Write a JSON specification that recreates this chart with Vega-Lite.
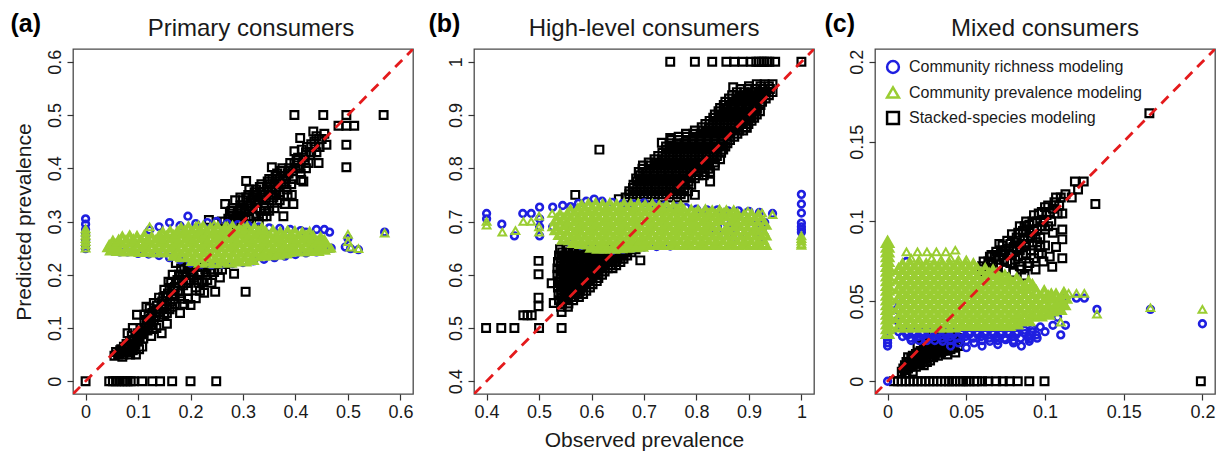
{
"$schema":"https://vega.github.io/schema/vega-lite/v6.json",
"autosize":{"type":"pad"},
"padding":{"left":9,"top":10,"right":8,"bottom":5},
"background":"white",
"config":{
 "font":"Liberation Sans",
 "view":{"stroke":"#4a4a4a","strokeWidth":1.3},
 "axis":{"domain":false,"grid":false,"tickColor":"#333333","tickSize":6,"tickWidth":1.2,"labelFontSize":18,"labelColor":"#1a1a1a","labelPadding":3,"labelOverlap":false,"labelFlush":false,"titleFontSize":21,"titleFontWeight":"normal","titleColor":"#1a1a1a"},
 "axisY":{"labelAngle":-90,"labelAlign":"center","labelBaseline":"bottom","titlePadding":12},
 "axisX":{"labelAngle":0,"titlePadding":8},
 "title":{"fontSize":24,"fontWeight":"normal","color":"#1a1a1a","baseline":"alphabetic","offset":-30},
 "legend":{"labelFontSize":16,"labelColor":"#1a1a1a","labelLimit":0,"symbolStrokeWidth":2.5,"symbolSize":140,"rowPadding":3.5,"padding":4,"offset":6,"labelOffset":8}
},
"datasets":{
"da":[{"x":-0.024,"y":-0.024},{"x":0.624,"y":0.624}],
"db":[{"x":0.376,"y":0.376},{"x":1.024,"y":1.024}],
"dc":[{"x":-0.008,"y":-0.008},{"x":0.208,"y":0.208}],
"as":[{"x":0,"y":0},{"x":0.045,"y":0},{"x":0.052,"y":0},{"x":0.058,"y":0},{"x":0.064,"y":0},{"x":0.07,"y":0},{"x":0.075,"y":0},{"x":0.08,"y":0},{"x":0.086,"y":0},{"x":0.092,"y":0},{"x":0.108,"y":0},{"x":0.127,"y":0},{"x":0.142,"y":0},{"x":0.165,"y":0},{"x":0.2,"y":0},{"x":0.249,"y":0},
{"x":0.055,"y":0.048},{"x":0.062,"y":0.05},{"x":0.07,"y":0.046},{"x":0.075,"y":0.055},{"x":0.08,"y":0.06},{"x":0.085,"y":0.05},{"x":0.09,"y":0.058},{"x":0.096,"y":0.05},{"x":0.068,"y":0.06},{"x":0.078,"y":0.07},{"x":0.085,"y":0.075},{"x":0.088,"y":0.085},{"x":0.095,"y":0.07},{"x":0.1,"y":0.09},{"x":0.098,"y":0.125},{"x":0.105,"y":0.1},{"x":0.11,"y":0.08},{"x":0.112,"y":0.11},{"x":0.118,"y":0.095},{"x":0.12,"y":0.125},{"x":0.122,"y":0.137},{"x":0.125,"y":0.105},{"x":0.13,"y":0.115},{"x":0.13,"y":0.147},{"x":0.135,"y":0.13},{"x":0.14,"y":0.12},{"x":0.14,"y":0.157},{"x":0.145,"y":0.09},{"x":0.145,"y":0.14},{"x":0.15,"y":0.172},{"x":0.15,"y":0.125},{"x":0.155,"y":0.15},{"x":0.158,"y":0.187},{"x":0.16,"y":0.135},{"x":0.165,"y":0.162},{"x":0.166,"y":0.2},{"x":0.17,"y":0.177},{"x":0.17,"y":0.145},{"x":0.175,"y":0.19},{"x":0.18,"y":0.128},{"x":0.18,"y":0.165},{"x":0.182,"y":0.212},{"x":0.186,"y":0.18},{"x":0.188,"y":0.145},{"x":0.19,"y":0.2},{"x":0.195,"y":0.17},{"x":0.198,"y":0.22},{"x":0.2,"y":0.19},{"x":0.2,"y":0.143},{"x":0.205,"y":0.21},{"x":0.21,"y":0.176},{"x":0.21,"y":0.156},{"x":0.215,"y":0.2},{"x":0.22,"y":0.215},{"x":0.222,"y":0.186},{"x":0.226,"y":0.166},{"x":0.23,"y":0.2},{"x":0.235,"y":0.218},{"x":0.24,"y":0.185},{"x":0.245,"y":0.205},{"x":0.247,"y":0.168},{"x":0.25,"y":0.22},{"x":0.256,"y":0.195},{"x":0.26,"y":0.21},{"x":0.266,"y":0.22},{"x":0.283,"y":0.202},{"x":0.305,"y":0.168},{"x":0.172,"y":0.222},{"x":0.186,"y":0.226},{"x":0.108,"y":0.065},{"x":0.125,"y":0.085},{"x":0.135,"y":0.1},{"x":0.155,"y":0.108},{"x":0.116,"y":0.14},{"x":0.09,"y":0.1},{"x":0.08,"y":0.09},{"x":0.102,"y":0.06},{"x":0.112,"y":0.125},{"x":0.065,"y":0.052},{"x":0.073,"y":0.065},{"x":0.083,"y":0.068},{"x":0.092,"y":0.078},{"x":0.1,"y":0.075},{"x":0.106,"y":0.088},{"x":0.116,"y":0.105},{"x":0.124,"y":0.118},{"x":0.136,"y":0.142},{"x":0.148,"y":0.158},{"x":0.16,"y":0.175},{"x":0.17,"y":0.16},{"x":0.185,"y":0.2},{"x":0.196,"y":0.185},{"x":0.206,"y":0.195},{"x":0.215,"y":0.185},{"x":0.228,"y":0.21},{"x":0.24,"y":0.205},
{"x":0.058,"y":0.055},{"x":0.066,"y":0.058},{"x":0.072,"y":0.05},{"x":0.077,"y":0.062},{"x":0.082,"y":0.055},{"x":0.087,"y":0.065},{"x":0.093,"y":0.065},{"x":0.097,"y":0.082},{"x":0.103,"y":0.08},{"x":0.107,"y":0.095},{"x":0.11,"y":0.09},{"x":0.114,"y":0.1},{"x":0.117,"y":0.115},{"x":0.121,"y":0.11},{"x":0.127,"y":0.128},{"x":0.128,"y":0.098},{"x":0.133,"y":0.122},{"x":0.138,"y":0.135},{"x":0.142,"y":0.13},{"x":0.146,"y":0.15},{"x":0.151,"y":0.145},{"x":0.152,"y":0.16},{"x":0.157,"y":0.165},{"x":0.162,"y":0.15},{"x":0.163,"y":0.185},{"x":0.168,"y":0.17},{"x":0.172,"y":0.185},{"x":0.176,"y":0.17},{"x":0.178,"y":0.2},{"x":0.183,"y":0.19},{"x":0.188,"y":0.21},{"x":0.192,"y":0.185},{"x":0.194,"y":0.215},{"x":0.2,"y":0.205},{"x":0.203,"y":0.2},{"x":0.208,"y":0.218},{"x":0.212,"y":0.19},{"x":0.218,"y":0.205},{"x":0.225,"y":0.22},{"x":0.232,"y":0.19},{"x":0.238,"y":0.21},{"x":0.243,"y":0.22},{"x":0.252,"y":0.21},{"x":0.258,"y":0.22},{"x":0.218,"y":0.17},{"x":0.195,"y":0.155},{"x":0.182,"y":0.155},{"x":0.165,"y":0.14},{"x":0.155,"y":0.128},
{"x":0.27,"y":0.29},{"x":0.275,"y":0.3},{"x":0.28,"y":0.31},{"x":0.285,"y":0.295},{"x":0.29,"y":0.32},{"x":0.29,"y":0.3},{"x":0.295,"y":0.33},{"x":0.3,"y":0.31},{"x":0.3,"y":0.34},{"x":0.305,"y":0.295},{"x":0.306,"y":0.376},{"x":0.31,"y":0.32},{"x":0.31,"y":0.35},{"x":0.315,"y":0.335},{"x":0.32,"y":0.31},{"x":0.32,"y":0.345},{"x":0.325,"y":0.36},{"x":0.325,"y":0.325},{"x":0.33,"y":0.34},{"x":0.33,"y":0.3},{"x":0.335,"y":0.355},{"x":0.335,"y":0.37},{"x":0.34,"y":0.33},{"x":0.34,"y":0.35},{"x":0.345,"y":0.365},{"x":0.345,"y":0.31},{"x":0.35,"y":0.34},{"x":0.35,"y":0.38},{"x":0.355,"y":0.402},{"x":0.355,"y":0.36},{"x":0.36,"y":0.35},{"x":0.36,"y":0.37},{"x":0.365,"y":0.39},{"x":0.365,"y":0.335},{"x":0.37,"y":0.38},{"x":0.37,"y":0.355},{"x":0.375,"y":0.4},{"x":0.377,"y":0.31},{"x":0.38,"y":0.333},{"x":0.38,"y":0.37},{"x":0.385,"y":0.39},{"x":0.39,"y":0.41},{"x":0.393,"y":0.35},{"x":0.396,"y":0.333},{"x":0.395,"y":0.38},{"x":0.398,"y":0.432},{"x":0.4,"y":0.4},{"x":0.405,"y":0.42},{"x":0.409,"y":0.457},{"x":0.41,"y":0.39},{"x":0.415,"y":0.375},{"x":0.42,"y":0.43},{"x":0.425,"y":0.41},{"x":0.43,"y":0.445},{"x":0.434,"y":0.469},{"x":0.44,"y":0.43},{"x":0.444,"y":0.41},{"x":0.45,"y":0.455},{"x":0.459,"y":0.444},{"x":0.398,"y":0.5},{"x":0.453,"y":0.5},{"x":0.497,"y":0.5},{"x":0.568,"y":0.5},{"x":0.482,"y":0.48},{"x":0.497,"y":0.48},{"x":0.512,"y":0.48},{"x":0.497,"y":0.444},{"x":0.497,"y":0.402},{"x":0.266,"y":0.333},{"x":0.235,"y":0.303},{"x":0.26,"y":0.3},{"x":0.25,"y":0.298},{"x":0.28,"y":0.325},{"x":0.285,"y":0.34},{"x":0.275,"y":0.315},{"x":0.272,"y":0.305},{"x":0.278,"y":0.32},{"x":0.288,"y":0.31},{"x":0.295,"y":0.345},{"x":0.298,"y":0.3},{"x":0.308,"y":0.33},{"x":0.312,"y":0.36},{"x":0.318,"y":0.325},{"x":0.322,"y":0.355},{"x":0.328,"y":0.335},{"x":0.332,"y":0.365},{"x":0.338,"y":0.345},{"x":0.342,"y":0.32},{"x":0.348,"y":0.355},{"x":0.352,"y":0.37},{"x":0.358,"y":0.345},{"x":0.362,"y":0.385},{"x":0.368,"y":0.365},{"x":0.372,"y":0.395},{"x":0.378,"y":0.35},{"x":0.382,"y":0.38},{"x":0.388,"y":0.4},{"x":0.392,"y":0.37},{"x":0.402,"y":0.415},{"x":0.408,"y":0.4},{"x":0.412,"y":0.435},{"x":0.418,"y":0.415},{"x":0.428,"y":0.425},{"x":0.436,"y":0.45},{"x":0.446,"y":0.44},{"x":0.455,"y":0.465},{"x":0.44,"y":0.46},{"x":0.411,"y":0.378},{"x":0.42,"y":0.4},
{"x":0.275,"y":0.293},{"x":0.283,"y":0.305},{"x":0.292,"y":0.312},{"x":0.297,"y":0.322},{"x":0.303,"y":0.318},{"x":0.306,"y":0.345},{"x":0.314,"y":0.328},{"x":0.318,"y":0.345},{"x":0.323,"y":0.335},{"x":0.327,"y":0.35},{"x":0.333,"y":0.32},{"x":0.336,"y":0.345},{"x":0.343,"y":0.34},{"x":0.347,"y":0.375},{"x":0.353,"y":0.35},{"x":0.356,"y":0.38},{"x":0.363,"y":0.36},{"x":0.366,"y":0.375},{"x":0.373,"y":0.37},{"x":0.376,"y":0.385},{"x":0.383,"y":0.36},{"x":0.387,"y":0.39},{"x":0.395,"y":0.395},{"x":0.398,"y":0.41},{"x":0.404,"y":0.4},{"x":0.415,"y":0.42},{"x":0.422,"y":0.44},{"x":0.43,"y":0.43},{"x":0.438,"y":0.44},{"x":0.445,"y":0.455},{"x":0.312,"y":0.305},{"x":0.325,"y":0.31},{"x":0.338,"y":0.31},{"x":0.35,"y":0.32},{"x":0.36,"y":0.325},{"x":0.37,"y":0.34},{"x":0.385,"y":0.35}],
"ab":[{"x":0,"y":0.305},{"x":0,"y":0.295},{"x":0,"y":0.285},{"x":0,"y":0.275},{"x":0,"y":0.265},{"x":0,"y":0.255},{"x":0,"y":0.249},{"x":0.122,"y":0.284},{"x":0.14,"y":0.29},{"x":0.16,"y":0.298},{"x":0.18,"y":0.292},{"x":0.195,"y":0.31},{"x":0.21,"y":0.296},{"x":0.232,"y":0.298},{"x":0.25,"y":0.3},{"x":0.27,"y":0.296},{"x":0.29,"y":0.294},{"x":0.31,"y":0.292},{"x":0.33,"y":0.29},{"x":0.35,"y":0.288},{"x":0.37,"y":0.287},{"x":0.39,"y":0.285},{"x":0.41,"y":0.283},{"x":0.42,"y":0.28},{"x":0.44,"y":0.285},{"x":0.455,"y":0.285},{"x":0.465,"y":0.28},{"x":0.43,"y":0.268},{"x":0.445,"y":0.258},{"x":0.468,"y":0.25},{"x":0.455,"y":0.248},{"x":0.495,"y":0.252},{"x":0.505,"y":0.249},{"x":0.52,"y":0.247},{"x":0.57,"y":0.28},{"x":0.5,"y":0.268},{"x":0.05,"y":0.245},{"x":0.065,"y":0.243},{"x":0.08,"y":0.243},{"x":0.1,"y":0.24},{"x":0.12,"y":0.239},{"x":0.14,"y":0.236},{"x":0.16,"y":0.232},{"x":0.18,"y":0.228},{"x":0.2,"y":0.222},{"x":0.22,"y":0.22},{"x":0.24,"y":0.219},{"x":0.26,"y":0.22},{"x":0.28,"y":0.221},{"x":0.3,"y":0.223},{"x":0.32,"y":0.226},{"x":0.34,"y":0.229},{"x":0.36,"y":0.232},{"x":0.38,"y":0.235},{"x":0.4,"y":0.238},{"x":0.42,"y":0.241},{"x":0.44,"y":0.243},{"x":0.047,"y":0.252}],
"ag":[{"x":0.205,"y":0.227},{"x":0.219,"y":0.224},{"x":0.233,"y":0.226},{"x":0.247,"y":0.223},{"x":0.261,"y":0.226},{"x":0.275,"y":0.224},{"x":0.289,"y":0.227},{"x":0.303,"y":0.226},{"x":0.317,"y":0.229},
{"x":0.17,"y":0.237},{"x":0.184,"y":0.234},{"x":0.198,"y":0.235},{"x":0.212,"y":0.233},{"x":0.226,"y":0.236},{"x":0.24,"y":0.234},{"x":0.254,"y":0.235},{"x":0.268,"y":0.233},{"x":0.282,"y":0.234},{"x":0.296,"y":0.236},{"x":0.31,"y":0.235},{"x":0.324,"y":0.236},{"x":0.338,"y":0.237},{"x":0.352,"y":0.238},{"x":0.366,"y":0.239},{"x":0.38,"y":0.241},
{"x":0.05,"y":0.247},{"x":0.063,"y":0.246},{"x":0.077,"y":0.245},{"x":0.091,"y":0.246},{"x":0.105,"y":0.244},{"x":0.119,"y":0.245},{"x":0.133,"y":0.243},{"x":0.147,"y":0.244},{"x":0.161,"y":0.243},{"x":0.175,"y":0.245},{"x":0.189,"y":0.244},{"x":0.203,"y":0.243},{"x":0.217,"y":0.244},{"x":0.231,"y":0.245},{"x":0.245,"y":0.243},{"x":0.259,"y":0.244},{"x":0.273,"y":0.245},{"x":0.287,"y":0.243},{"x":0.301,"y":0.244},{"x":0.315,"y":0.243},{"x":0.329,"y":0.245},{"x":0.343,"y":0.244},{"x":0.357,"y":0.243},{"x":0.371,"y":0.245},{"x":0.385,"y":0.244},{"x":0.399,"y":0.246},{"x":0.413,"y":0.245},{"x":0.427,"y":0.247},{"x":0.441,"y":0.246},{"x":0.453,"y":0.248},
{"x":0.045,"y":0.253},{"x":0.056,"y":0.255},{"x":0.07,"y":0.252},{"x":0.084,"y":0.254},{"x":0.098,"y":0.253},{"x":0.112,"y":0.255},{"x":0.126,"y":0.252},{"x":0.14,"y":0.254},{"x":0.154,"y":0.253},{"x":0.168,"y":0.255},{"x":0.182,"y":0.252},{"x":0.196,"y":0.254},{"x":0.21,"y":0.253},{"x":0.224,"y":0.255},{"x":0.238,"y":0.252},{"x":0.252,"y":0.254},{"x":0.266,"y":0.253},{"x":0.28,"y":0.255},{"x":0.294,"y":0.252},{"x":0.308,"y":0.254},{"x":0.322,"y":0.253},{"x":0.336,"y":0.255},{"x":0.35,"y":0.252},{"x":0.364,"y":0.254},{"x":0.378,"y":0.253},{"x":0.392,"y":0.255},{"x":0.406,"y":0.252},{"x":0.42,"y":0.254},{"x":0.434,"y":0.253},{"x":0.448,"y":0.255},{"x":0.461,"y":0.252},
{"x":0.052,"y":0.261},{"x":0.063,"y":0.263},{"x":0.077,"y":0.262},{"x":0.091,"y":0.264},{"x":0.105,"y":0.261},{"x":0.119,"y":0.263},{"x":0.133,"y":0.262},{"x":0.147,"y":0.264},{"x":0.161,"y":0.261},{"x":0.175,"y":0.263},{"x":0.189,"y":0.262},{"x":0.203,"y":0.264},{"x":0.217,"y":0.261},{"x":0.231,"y":0.263},{"x":0.245,"y":0.262},{"x":0.259,"y":0.264},{"x":0.273,"y":0.261},{"x":0.287,"y":0.263},{"x":0.301,"y":0.262},{"x":0.315,"y":0.264},{"x":0.329,"y":0.261},{"x":0.343,"y":0.263},{"x":0.357,"y":0.262},{"x":0.371,"y":0.264},{"x":0.385,"y":0.261},{"x":0.399,"y":0.263},{"x":0.413,"y":0.262},{"x":0.427,"y":0.264},{"x":0.441,"y":0.261},{"x":0.455,"y":0.263},
{"x":0.07,"y":0.269},{"x":0.084,"y":0.271},{"x":0.098,"y":0.27},{"x":0.112,"y":0.272},{"x":0.126,"y":0.269},{"x":0.14,"y":0.271},{"x":0.154,"y":0.27},{"x":0.168,"y":0.272},{"x":0.182,"y":0.269},{"x":0.196,"y":0.271},{"x":0.21,"y":0.27},{"x":0.224,"y":0.272},{"x":0.238,"y":0.269},{"x":0.252,"y":0.271},{"x":0.266,"y":0.27},{"x":0.28,"y":0.272},{"x":0.294,"y":0.269},{"x":0.308,"y":0.271},{"x":0.322,"y":0.27},{"x":0.336,"y":0.272},{"x":0.35,"y":0.269},{"x":0.364,"y":0.271},{"x":0.378,"y":0.27},{"x":0.392,"y":0.272},{"x":0.406,"y":0.269},{"x":0.42,"y":0.271},{"x":0.434,"y":0.27},{"x":0.448,"y":0.268},
{"x":0.147,"y":0.278},{"x":0.161,"y":0.28},{"x":0.175,"y":0.279},{"x":0.189,"y":0.281},{"x":0.203,"y":0.278},{"x":0.217,"y":0.28},{"x":0.231,"y":0.279},{"x":0.245,"y":0.281},{"x":0.259,"y":0.278},{"x":0.273,"y":0.28},{"x":0.287,"y":0.279},{"x":0.301,"y":0.281},{"x":0.315,"y":0.278},{"x":0.329,"y":0.28},{"x":0.343,"y":0.279},{"x":0.357,"y":0.281},{"x":0.371,"y":0.278},{"x":0.385,"y":0.28},{"x":0.399,"y":0.279},{"x":0.413,"y":0.277},{"x":0.427,"y":0.278},
{"x":0.182,"y":0.286},{"x":0.196,"y":0.288},{"x":0.21,"y":0.287},{"x":0.224,"y":0.289},{"x":0.238,"y":0.286},{"x":0.252,"y":0.288},{"x":0.266,"y":0.287},{"x":0.28,"y":0.289},{"x":0.294,"y":0.286},{"x":0.308,"y":0.288},{"x":0.322,"y":0.287},{"x":0.336,"y":0.286}],
"ago":[{"x":0.215,"y":0.293},{"x":0.245,"y":0.294},{"x":0.27,"y":0.292},{"x":0.3,"y":0.291},{"x":0.122,"y":0.29},{"x":0.5,"y":0.276},{"x":0.5,"y":0.262},{"x":0.505,"y":0.252},{"x":0.52,"y":0.249},{"x":0.57,"y":0.278},{"x":0.468,"y":0.25},{"x":0,"y":0.25},{"x":0,"y":0.256},{"x":0,"y":0.262},{"x":0,"y":0.268},{"x":0,"y":0.274},{"x":0,"y":0.28},{"x":0,"y":0.286}],
"bs":[{"x":0.75,"y":1},{"x":0.797,"y":1},{"x":0.83,"y":1},{"x":0.857,"y":1},{"x":0.872,"y":1},{"x":0.888,"y":1},{"x":0.904,"y":1},{"x":0.914,"y":1},{"x":0.919,"y":1},{"x":0.924,"y":1},{"x":0.929,"y":1},{"x":0.934,"y":1},{"x":0.939,"y":1},{"x":0.95,"y":1},{"x":1,"y":1},
{"x":0.542,"y":0.54},{"x":0.555,"y":0.54},
{"x":0.538,"y":0.552},{"x":0.55,"y":0.552},{"x":0.565,"y":0.552},
{"x":0.537,"y":0.564},{"x":0.549,"y":0.564},{"x":0.561,"y":0.564},{"x":0.573,"y":0.564},{"x":0.584,"y":0.564},
{"x":0.536,"y":0.576},{"x":0.548,"y":0.576},{"x":0.56,"y":0.576},{"x":0.572,"y":0.576},{"x":0.584,"y":0.576},{"x":0.597,"y":0.576},
{"x":0.536,"y":0.588},{"x":0.548,"y":0.588},{"x":0.56,"y":0.588},{"x":0.572,"y":0.588},{"x":0.584,"y":0.588},{"x":0.596,"y":0.588},{"x":0.61,"y":0.588},
{"x":0.535,"y":0.6},{"x":0.547,"y":0.6},{"x":0.559,"y":0.6},{"x":0.571,"y":0.6},{"x":0.583,"y":0.6},{"x":0.595,"y":0.6},{"x":0.607,"y":0.6},{"x":0.62,"y":0.6},
{"x":0.535,"y":0.612},{"x":0.547,"y":0.612},{"x":0.559,"y":0.612},{"x":0.571,"y":0.612},{"x":0.583,"y":0.612},{"x":0.595,"y":0.612},{"x":0.607,"y":0.612},{"x":0.619,"y":0.612},{"x":0.631,"y":0.612},{"x":0.64,"y":0.612},
{"x":0.536,"y":0.624},{"x":0.548,"y":0.624},{"x":0.56,"y":0.624},{"x":0.572,"y":0.624},{"x":0.584,"y":0.624},{"x":0.596,"y":0.624},{"x":0.608,"y":0.624},{"x":0.62,"y":0.624},{"x":0.632,"y":0.624},{"x":0.644,"y":0.624},{"x":0.655,"y":0.624},
{"x":0.538,"y":0.636},{"x":0.55,"y":0.636},{"x":0.562,"y":0.636},{"x":0.574,"y":0.636},{"x":0.586,"y":0.636},{"x":0.598,"y":0.636},{"x":0.61,"y":0.636},{"x":0.622,"y":0.636},{"x":0.634,"y":0.636},{"x":0.646,"y":0.636},{"x":0.658,"y":0.636},{"x":0.668,"y":0.636},
{"x":0.54,"y":0.648},{"x":0.552,"y":0.648},{"x":0.564,"y":0.648},{"x":0.576,"y":0.648},{"x":0.588,"y":0.648},{"x":0.6,"y":0.648},{"x":0.612,"y":0.648},{"x":0.624,"y":0.648},{"x":0.636,"y":0.648},{"x":0.648,"y":0.648},{"x":0.66,"y":0.648},{"x":0.672,"y":0.648},{"x":0.684,"y":0.648},
{"x":0.544,"y":0.546},{"x":0.556,"y":0.546},
{"x":0.543,"y":0.558},{"x":0.555,"y":0.558},{"x":0.567,"y":0.558},{"x":0.576,"y":0.558},
{"x":0.542,"y":0.57},{"x":0.554,"y":0.57},{"x":0.566,"y":0.57},{"x":0.578,"y":0.57},{"x":0.59,"y":0.57},
{"x":0.542,"y":0.582},{"x":0.554,"y":0.582},{"x":0.566,"y":0.582},{"x":0.578,"y":0.582},{"x":0.59,"y":0.582},{"x":0.602,"y":0.582},
{"x":0.541,"y":0.594},{"x":0.553,"y":0.594},{"x":0.565,"y":0.594},{"x":0.577,"y":0.594},{"x":0.589,"y":0.594},{"x":0.601,"y":0.594},{"x":0.613,"y":0.594},
{"x":0.541,"y":0.606},{"x":0.553,"y":0.606},{"x":0.565,"y":0.606},{"x":0.577,"y":0.606},{"x":0.589,"y":0.606},{"x":0.601,"y":0.606},{"x":0.613,"y":0.606},{"x":0.625,"y":0.606},
{"x":0.541,"y":0.618},{"x":0.553,"y":0.618},{"x":0.565,"y":0.618},{"x":0.577,"y":0.618},{"x":0.589,"y":0.618},{"x":0.601,"y":0.618},{"x":0.613,"y":0.618},{"x":0.625,"y":0.618},{"x":0.637,"y":0.618},{"x":0.647,"y":0.618},
{"x":0.542,"y":0.63},{"x":0.554,"y":0.63},{"x":0.566,"y":0.63},{"x":0.578,"y":0.63},{"x":0.59,"y":0.63},{"x":0.602,"y":0.63},{"x":0.614,"y":0.63},{"x":0.626,"y":0.63},{"x":0.638,"y":0.63},{"x":0.65,"y":0.63},{"x":0.661,"y":0.63},
{"x":0.544,"y":0.642},{"x":0.556,"y":0.642},{"x":0.568,"y":0.642},{"x":0.58,"y":0.642},{"x":0.592,"y":0.642},{"x":0.604,"y":0.642},{"x":0.616,"y":0.642},{"x":0.628,"y":0.642},{"x":0.64,"y":0.642},{"x":0.652,"y":0.642},{"x":0.664,"y":0.642},{"x":0.676,"y":0.642},
{"x":0.399,"y":0.5},{"x":0.428,"y":0.5},{"x":0.453,"y":0.5},{"x":0.5,"y":0.5},{"x":0.543,"y":0.5},{"x":0.47,"y":0.524},{"x":0.478,"y":0.524},{"x":0.486,"y":0.524},{"x":0.499,"y":0.541},{"x":0.499,"y":0.557},{"x":0.499,"y":0.601},{"x":0.499,"y":0.626},{"x":0.524,"y":0.584},{"x":0.528,"y":0.547},{"x":0.543,"y":0.53},{"x":0.693,"y":0.627},
{"x":0.665,"y":0.745},{"x":0.679,"y":0.745},{"x":0.693,"y":0.745},{"x":0.707,"y":0.745},{"x":0.721,"y":0.745},{"x":0.735,"y":0.745},{"x":0.749,"y":0.745},{"x":0.763,"y":0.745},{"x":0.777,"y":0.745},
{"x":0.672,"y":0.757},{"x":0.686,"y":0.757},{"x":0.7,"y":0.757},{"x":0.714,"y":0.757},{"x":0.728,"y":0.757},{"x":0.742,"y":0.757},{"x":0.756,"y":0.757},{"x":0.77,"y":0.757},{"x":0.784,"y":0.757},
{"x":0.68,"y":0.769},{"x":0.694,"y":0.769},{"x":0.708,"y":0.769},{"x":0.722,"y":0.769},{"x":0.736,"y":0.769},{"x":0.75,"y":0.769},{"x":0.764,"y":0.769},{"x":0.778,"y":0.769},{"x":0.79,"y":0.769},
{"x":0.685,"y":0.781},{"x":0.699,"y":0.781},{"x":0.713,"y":0.781},{"x":0.727,"y":0.781},{"x":0.741,"y":0.781},{"x":0.755,"y":0.781},{"x":0.769,"y":0.781},{"x":0.783,"y":0.781},{"x":0.797,"y":0.781},
{"x":0.69,"y":0.793},{"x":0.704,"y":0.793},{"x":0.718,"y":0.793},{"x":0.732,"y":0.793},{"x":0.746,"y":0.793},{"x":0.76,"y":0.793},{"x":0.774,"y":0.793},{"x":0.788,"y":0.793},{"x":0.802,"y":0.793},{"x":0.816,"y":0.793},{"x":0.826,"y":0.793},
{"x":0.698,"y":0.805},{"x":0.712,"y":0.805},{"x":0.726,"y":0.805},{"x":0.74,"y":0.805},{"x":0.754,"y":0.805},{"x":0.768,"y":0.805},{"x":0.782,"y":0.805},{"x":0.796,"y":0.805},{"x":0.81,"y":0.805},{"x":0.824,"y":0.805},{"x":0.835,"y":0.805},
{"x":0.72,"y":0.817},{"x":0.734,"y":0.817},{"x":0.748,"y":0.817},{"x":0.762,"y":0.817},{"x":0.776,"y":0.817},{"x":0.79,"y":0.817},{"x":0.804,"y":0.817},{"x":0.818,"y":0.817},{"x":0.832,"y":0.817},{"x":0.845,"y":0.817},
{"x":0.735,"y":0.829},{"x":0.749,"y":0.829},{"x":0.763,"y":0.829},{"x":0.777,"y":0.829},{"x":0.791,"y":0.829},{"x":0.805,"y":0.829},{"x":0.819,"y":0.829},{"x":0.833,"y":0.829},{"x":0.847,"y":0.829},
{"x":0.742,"y":0.841},{"x":0.756,"y":0.841},{"x":0.77,"y":0.841},{"x":0.784,"y":0.841},{"x":0.798,"y":0.841},{"x":0.812,"y":0.841},{"x":0.826,"y":0.841},{"x":0.84,"y":0.841},{"x":0.855,"y":0.841},
{"x":0.752,"y":0.853},{"x":0.766,"y":0.853},{"x":0.78,"y":0.853},{"x":0.794,"y":0.853},{"x":0.808,"y":0.853},{"x":0.822,"y":0.853},{"x":0.836,"y":0.853},{"x":0.85,"y":0.853},{"x":0.864,"y":0.853},
{"x":0.78,"y":0.865},{"x":0.794,"y":0.865},{"x":0.808,"y":0.865},{"x":0.822,"y":0.865},{"x":0.836,"y":0.865},{"x":0.85,"y":0.865},{"x":0.864,"y":0.865},{"x":0.878,"y":0.865},
{"x":0.81,"y":0.877},{"x":0.824,"y":0.877},{"x":0.838,"y":0.877},{"x":0.852,"y":0.877},{"x":0.866,"y":0.877},{"x":0.88,"y":0.877},{"x":0.894,"y":0.877},
{"x":0.825,"y":0.889},{"x":0.839,"y":0.889},{"x":0.853,"y":0.889},{"x":0.867,"y":0.889},{"x":0.881,"y":0.889},{"x":0.895,"y":0.889},{"x":0.905,"y":0.889},
{"x":0.835,"y":0.901},{"x":0.849,"y":0.901},{"x":0.863,"y":0.901},{"x":0.877,"y":0.901},{"x":0.891,"y":0.901},{"x":0.905,"y":0.901},{"x":0.915,"y":0.901},
{"x":0.845,"y":0.913},{"x":0.859,"y":0.913},{"x":0.873,"y":0.913},{"x":0.887,"y":0.913},{"x":0.901,"y":0.913},{"x":0.915,"y":0.913},
{"x":0.855,"y":0.925},{"x":0.869,"y":0.925},{"x":0.883,"y":0.925},{"x":0.897,"y":0.925},{"x":0.911,"y":0.925},{"x":0.925,"y":0.925},
{"x":0.868,"y":0.937},{"x":0.882,"y":0.937},{"x":0.896,"y":0.937},{"x":0.91,"y":0.937},{"x":0.924,"y":0.937},{"x":0.938,"y":0.937},
{"x":0.884,"y":0.949},{"x":0.898,"y":0.949},{"x":0.912,"y":0.949},{"x":0.926,"y":0.949},{"x":0.94,"y":0.949},
{"x":0.915,"y":0.958},{"x":0.93,"y":0.958},{"x":0.945,"y":0.958},
{"x":0.672,"y":0.751},{"x":0.686,"y":0.751},{"x":0.7,"y":0.751},{"x":0.714,"y":0.751},{"x":0.728,"y":0.751},{"x":0.742,"y":0.751},{"x":0.756,"y":0.751},{"x":0.77,"y":0.751},
{"x":0.679,"y":0.763},{"x":0.693,"y":0.763},{"x":0.707,"y":0.763},{"x":0.721,"y":0.763},{"x":0.735,"y":0.763},{"x":0.749,"y":0.763},{"x":0.763,"y":0.763},{"x":0.777,"y":0.763},
{"x":0.687,"y":0.775},{"x":0.701,"y":0.775},{"x":0.715,"y":0.775},{"x":0.729,"y":0.775},{"x":0.743,"y":0.775},{"x":0.757,"y":0.775},{"x":0.771,"y":0.775},{"x":0.785,"y":0.775},
{"x":0.692,"y":0.787},{"x":0.706,"y":0.787},{"x":0.72,"y":0.787},{"x":0.734,"y":0.787},{"x":0.748,"y":0.787},{"x":0.762,"y":0.787},{"x":0.776,"y":0.787},{"x":0.79,"y":0.787},{"x":0.804,"y":0.787},{"x":0.814,"y":0.787},
{"x":0.697,"y":0.799},{"x":0.711,"y":0.799},{"x":0.725,"y":0.799},{"x":0.739,"y":0.799},{"x":0.753,"y":0.799},{"x":0.767,"y":0.799},{"x":0.781,"y":0.799},{"x":0.795,"y":0.799},{"x":0.809,"y":0.799},{"x":0.823,"y":0.799},
{"x":0.709,"y":0.811},{"x":0.723,"y":0.811},{"x":0.737,"y":0.811},{"x":0.751,"y":0.811},{"x":0.765,"y":0.811},{"x":0.779,"y":0.811},{"x":0.793,"y":0.811},{"x":0.807,"y":0.811},{"x":0.821,"y":0.811},{"x":0.835,"y":0.811},
{"x":0.727,"y":0.823},{"x":0.741,"y":0.823},{"x":0.755,"y":0.823},{"x":0.769,"y":0.823},{"x":0.783,"y":0.823},{"x":0.797,"y":0.823},{"x":0.811,"y":0.823},{"x":0.825,"y":0.823},{"x":0.839,"y":0.823},
{"x":0.742,"y":0.835},{"x":0.756,"y":0.835},{"x":0.77,"y":0.835},{"x":0.784,"y":0.835},{"x":0.798,"y":0.835},{"x":0.812,"y":0.835},{"x":0.826,"y":0.835},{"x":0.84,"y":0.835},{"x":0.851,"y":0.835},
{"x":0.749,"y":0.847},{"x":0.763,"y":0.847},{"x":0.777,"y":0.847},{"x":0.791,"y":0.847},{"x":0.805,"y":0.847},{"x":0.819,"y":0.847},{"x":0.833,"y":0.847},{"x":0.847,"y":0.847},{"x":0.859,"y":0.847},
{"x":0.766,"y":0.859},{"x":0.78,"y":0.859},{"x":0.794,"y":0.859},{"x":0.808,"y":0.859},{"x":0.822,"y":0.859},{"x":0.836,"y":0.859},{"x":0.85,"y":0.859},{"x":0.864,"y":0.859},{"x":0.872,"y":0.859},
{"x":0.797,"y":0.871},{"x":0.811,"y":0.871},{"x":0.825,"y":0.871},{"x":0.839,"y":0.871},{"x":0.853,"y":0.871},{"x":0.867,"y":0.871},{"x":0.881,"y":0.871},{"x":0.889,"y":0.871},
{"x":0.817,"y":0.883},{"x":0.831,"y":0.883},{"x":0.845,"y":0.883},{"x":0.859,"y":0.883},{"x":0.873,"y":0.883},{"x":0.887,"y":0.883},{"x":0.899,"y":0.883},
{"x":0.832,"y":0.895},{"x":0.846,"y":0.895},{"x":0.86,"y":0.895},{"x":0.874,"y":0.895},{"x":0.888,"y":0.895},{"x":0.902,"y":0.895},{"x":0.91,"y":0.895},
{"x":0.842,"y":0.907},{"x":0.856,"y":0.907},{"x":0.87,"y":0.907},{"x":0.884,"y":0.907},{"x":0.898,"y":0.907},{"x":0.912,"y":0.907},
{"x":0.852,"y":0.919},{"x":0.866,"y":0.919},{"x":0.88,"y":0.919},{"x":0.894,"y":0.919},{"x":0.908,"y":0.919},{"x":0.922,"y":0.919},
{"x":0.862,"y":0.931},{"x":0.876,"y":0.931},{"x":0.89,"y":0.931},{"x":0.904,"y":0.931},{"x":0.918,"y":0.931},{"x":0.932,"y":0.931},
{"x":0.877,"y":0.943},{"x":0.891,"y":0.943},{"x":0.905,"y":0.943},{"x":0.919,"y":0.943},{"x":0.933,"y":0.943},{"x":0.945,"y":0.943},
{"x":0.9,"y":0.954},{"x":0.922,"y":0.954},{"x":0.938,"y":0.954},
{"x":0.569,"y":0.75},{"x":0.615,"y":0.835},{"x":0.734,"y":0.848},{"x":0.75,"y":0.857},{"x":0.797,"y":0.75},{"x":0.826,"y":0.775},{"x":0.87,"y":0.952},{"x":0.921,"y":0.907},{"x":0.896,"y":0.876},{"x":0.652,"y":0.742}],
"bb":[{"x":0.4,"y":0.715},{"x":0.4,"y":0.705},{"x":0.429,"y":0.695},{"x":0.453,"y":0.673},{"x":0.469,"y":0.715},{"x":0.485,"y":0.715},{"x":0.501,"y":0.727},{"x":0.501,"y":0.705},{"x":0.501,"y":0.673},{"x":0.501,"y":0.69},{"x":0.526,"y":0.727},{"x":0.526,"y":0.69},{"x":0.545,"y":0.73},{"x":0.56,"y":0.728},{"x":0.575,"y":0.734},{"x":0.59,"y":0.738},{"x":0.605,"y":0.742},{"x":0.62,"y":0.738},{"x":0.64,"y":0.736},{"x":0.66,"y":0.734},{"x":0.68,"y":0.733},{"x":0.7,"y":0.735},{"x":0.72,"y":0.733},{"x":0.74,"y":0.73},{"x":0.76,"y":0.728},{"x":0.78,"y":0.726},{"x":0.8,"y":0.723},{"x":0.82,"y":0.722},{"x":0.84,"y":0.722},{"x":0.86,"y":0.72},{"x":0.88,"y":0.72},{"x":0.9,"y":0.719},{"x":0.92,"y":0.717},{"x":0.945,"y":0.715},
{"x":0.56,"y":0.66},{"x":0.58,"y":0.655},{"x":0.6,"y":0.651},{"x":0.62,"y":0.648},{"x":0.64,"y":0.646},{"x":0.66,"y":0.648},{"x":0.68,"y":0.65},{"x":0.7,"y":0.652},{"x":0.724,"y":0.653},{"x":0.75,"y":0.654},{"x":0.781,"y":0.655},
{"x":0.81,"y":0.69},{"x":0.825,"y":0.682},{"x":0.84,"y":0.69},{"x":0.85,"y":0.675},{"x":0.855,"y":0.7},{"x":0.865,"y":0.685},{"x":0.875,"y":0.695},{"x":0.885,"y":0.68},{"x":0.895,"y":0.7},{"x":0.905,"y":0.688},{"x":0.915,"y":0.695},{"x":0.925,"y":0.685},{"x":0.93,"y":0.698},{"x":0.93,"y":0.672},{"x":0.92,"y":0.67},{"x":0.87,"y":0.668},
{"x":1,"y":0.751},{"x":1,"y":0.733},{"x":1,"y":0.716},{"x":1,"y":0.697},{"x":1,"y":0.69},{"x":1,"y":0.685},{"x":1,"y":0.68}],
"bg":[{"x":0.601,"y":0.652},{"x":0.614,"y":0.65},{"x":0.628,"y":0.651},{"x":0.641,"y":0.65},{"x":0.655,"y":0.651},{"x":0.668,"y":0.652},{"x":0.682,"y":0.653},{"x":0.695,"y":0.654},
{"x":0.567,"y":0.661},{"x":0.581,"y":0.659},{"x":0.594,"y":0.658},{"x":0.608,"y":0.657},{"x":0.621,"y":0.659},{"x":0.635,"y":0.657},{"x":0.648,"y":0.659},{"x":0.662,"y":0.657},{"x":0.675,"y":0.659},{"x":0.689,"y":0.657},{"x":0.702,"y":0.659},{"x":0.716,"y":0.657},{"x":0.729,"y":0.659},{"x":0.743,"y":0.657},{"x":0.756,"y":0.659},{"x":0.77,"y":0.657},{"x":0.783,"y":0.659},{"x":0.797,"y":0.657},{"x":0.81,"y":0.659},{"x":0.824,"y":0.657},{"x":0.837,"y":0.659},{"x":0.851,"y":0.657},{"x":0.864,"y":0.659},{"x":0.878,"y":0.657},{"x":0.891,"y":0.659},{"x":0.905,"y":0.657},{"x":0.918,"y":0.659},{"x":0.93,"y":0.657},
{"x":0.547,"y":0.667},{"x":0.56,"y":0.666},{"x":0.574,"y":0.668},{"x":0.587,"y":0.666},{"x":0.601,"y":0.668},{"x":0.614,"y":0.666},{"x":0.628,"y":0.668},{"x":0.641,"y":0.666},{"x":0.655,"y":0.668},{"x":0.668,"y":0.666},{"x":0.682,"y":0.668},{"x":0.695,"y":0.666},{"x":0.709,"y":0.668},{"x":0.722,"y":0.666},{"x":0.736,"y":0.668},{"x":0.749,"y":0.666},{"x":0.763,"y":0.668},{"x":0.776,"y":0.666},{"x":0.79,"y":0.668},{"x":0.803,"y":0.666},{"x":0.817,"y":0.668},{"x":0.83,"y":0.666},{"x":0.844,"y":0.668},{"x":0.857,"y":0.666},{"x":0.871,"y":0.668},{"x":0.884,"y":0.666},{"x":0.898,"y":0.668},{"x":0.911,"y":0.666},{"x":0.925,"y":0.667},
{"x":0.54,"y":0.676},{"x":0.554,"y":0.675},{"x":0.567,"y":0.677},{"x":0.581,"y":0.675},{"x":0.594,"y":0.677},{"x":0.608,"y":0.675},{"x":0.621,"y":0.677},{"x":0.635,"y":0.675},{"x":0.648,"y":0.677},{"x":0.662,"y":0.675},{"x":0.675,"y":0.677},{"x":0.689,"y":0.675},{"x":0.702,"y":0.677},{"x":0.716,"y":0.675},{"x":0.729,"y":0.677},{"x":0.743,"y":0.675},{"x":0.756,"y":0.677},{"x":0.77,"y":0.675},{"x":0.783,"y":0.677},{"x":0.797,"y":0.675},{"x":0.81,"y":0.677},{"x":0.824,"y":0.675},{"x":0.837,"y":0.677},{"x":0.851,"y":0.675},{"x":0.864,"y":0.677},{"x":0.878,"y":0.675},{"x":0.891,"y":0.677},{"x":0.905,"y":0.675},{"x":0.918,"y":0.677},{"x":0.93,"y":0.675},
{"x":0.533,"y":0.685},{"x":0.547,"y":0.686},{"x":0.56,"y":0.684},{"x":0.574,"y":0.686},{"x":0.587,"y":0.684},{"x":0.601,"y":0.686},{"x":0.614,"y":0.684},{"x":0.628,"y":0.686},{"x":0.641,"y":0.684},{"x":0.655,"y":0.686},{"x":0.668,"y":0.684},{"x":0.682,"y":0.686},{"x":0.695,"y":0.684},{"x":0.709,"y":0.686},{"x":0.722,"y":0.684},{"x":0.736,"y":0.686},{"x":0.749,"y":0.684},{"x":0.763,"y":0.686},{"x":0.776,"y":0.684},{"x":0.79,"y":0.686},{"x":0.803,"y":0.684},{"x":0.817,"y":0.686},{"x":0.83,"y":0.684},{"x":0.857,"y":0.686},{"x":0.871,"y":0.684},{"x":0.898,"y":0.684},{"x":0.911,"y":0.686},{"x":0.925,"y":0.684},
{"x":0.54,"y":0.694},{"x":0.554,"y":0.695},{"x":0.567,"y":0.693},{"x":0.581,"y":0.695},{"x":0.594,"y":0.693},{"x":0.608,"y":0.695},{"x":0.621,"y":0.693},{"x":0.635,"y":0.695},{"x":0.648,"y":0.693},{"x":0.662,"y":0.695},{"x":0.675,"y":0.693},{"x":0.689,"y":0.695},{"x":0.702,"y":0.693},{"x":0.716,"y":0.695},{"x":0.729,"y":0.693},{"x":0.743,"y":0.695},{"x":0.756,"y":0.693},{"x":0.77,"y":0.695},{"x":0.783,"y":0.693},{"x":0.797,"y":0.695},{"x":0.81,"y":0.693},{"x":0.824,"y":0.695},{"x":0.837,"y":0.693},{"x":0.864,"y":0.693},{"x":0.878,"y":0.695},{"x":0.891,"y":0.693},{"x":0.918,"y":0.693},{"x":0.93,"y":0.695},
{"x":0.533,"y":0.703},{"x":0.547,"y":0.704},{"x":0.56,"y":0.702},{"x":0.574,"y":0.704},{"x":0.587,"y":0.702},{"x":0.601,"y":0.704},{"x":0.614,"y":0.702},{"x":0.628,"y":0.704},{"x":0.641,"y":0.702},{"x":0.655,"y":0.704},{"x":0.668,"y":0.702},{"x":0.682,"y":0.704},{"x":0.695,"y":0.702},{"x":0.709,"y":0.704},{"x":0.722,"y":0.702},{"x":0.736,"y":0.704},{"x":0.749,"y":0.702},{"x":0.763,"y":0.704},{"x":0.776,"y":0.702},{"x":0.79,"y":0.704},{"x":0.803,"y":0.702},{"x":0.817,"y":0.704},{"x":0.83,"y":0.702},{"x":0.844,"y":0.704},{"x":0.871,"y":0.704},{"x":0.884,"y":0.702},{"x":0.898,"y":0.704},{"x":0.911,"y":0.702},
{"x":0.54,"y":0.712},{"x":0.554,"y":0.713},{"x":0.567,"y":0.711},{"x":0.581,"y":0.713},{"x":0.594,"y":0.711},{"x":0.608,"y":0.713},{"x":0.621,"y":0.711},{"x":0.635,"y":0.713},{"x":0.648,"y":0.711},{"x":0.662,"y":0.713},{"x":0.675,"y":0.711},{"x":0.689,"y":0.713},{"x":0.702,"y":0.711},{"x":0.716,"y":0.713},{"x":0.729,"y":0.711},{"x":0.743,"y":0.713},{"x":0.756,"y":0.711},{"x":0.77,"y":0.713},{"x":0.783,"y":0.711},{"x":0.797,"y":0.713},{"x":0.81,"y":0.711},{"x":0.824,"y":0.713},{"x":0.837,"y":0.711},{"x":0.851,"y":0.713},{"x":0.864,"y":0.711},{"x":0.878,"y":0.713},{"x":0.891,"y":0.711},{"x":0.905,"y":0.712},{"x":0.918,"y":0.711},
{"x":0.56,"y":0.72},{"x":0.574,"y":0.722},{"x":0.587,"y":0.721},{"x":0.601,"y":0.723},{"x":0.614,"y":0.721},{"x":0.628,"y":0.723},{"x":0.641,"y":0.721},{"x":0.655,"y":0.723},{"x":0.668,"y":0.721},{"x":0.682,"y":0.723},{"x":0.695,"y":0.721},{"x":0.709,"y":0.722},{"x":0.722,"y":0.721},{"x":0.736,"y":0.722},{"x":0.749,"y":0.72},{"x":0.763,"y":0.721},{"x":0.776,"y":0.72},{"x":0.79,"y":0.72},{"x":0.803,"y":0.719},{"x":0.817,"y":0.72},{"x":0.83,"y":0.718},{"x":0.844,"y":0.719},{"x":0.857,"y":0.718},{"x":0.871,"y":0.718},
{"x":0.581,"y":0.729},{"x":0.594,"y":0.731},{"x":0.608,"y":0.732},{"x":0.621,"y":0.73},{"x":0.635,"y":0.732},{"x":0.648,"y":0.73},{"x":0.662,"y":0.731},{"x":0.675,"y":0.73},{"x":0.689,"y":0.731},{"x":0.702,"y":0.729},{"x":0.716,"y":0.73},{"x":0.729,"y":0.728},{"x":0.743,"y":0.729},{"x":0.756,"y":0.727},{"x":0.77,"y":0.727}],
"bgo":[{"x":0.898,"y":0.719},{"x":0.925,"y":0.716},{"x":0.4,"y":0.7},{"x":0.4,"y":0.693},{"x":0.43,"y":0.68},{"x":0.455,"y":0.683},{"x":0.47,"y":0.7},{"x":0.485,"y":0.7},{"x":0.5,"y":0.71},{"x":0.5,"y":0.69},{"x":0.5,"y":0.68},{"x":0.525,"y":0.715},{"x":0.525,"y":0.69},
{"x":1,"y":0.673},{"x":1,"y":0.668},{"x":1,"y":0.663},{"x":1,"y":0.658},{"x":1,"y":0.655},{"x":0.945,"y":0.713}],
"cs":[{"x":0.004,"y":0},{"x":0.0065,"y":0},{"x":0.009,"y":0},{"x":0.0115,"y":0},{"x":0.014,"y":0},{"x":0.0165,"y":0},{"x":0.019,"y":0},{"x":0.0215,"y":0},{"x":0.024,"y":0},{"x":0.0265,"y":0},{"x":0.029,"y":0},{"x":0.0315,"y":0},{"x":0.034,"y":0},{"x":0.0365,"y":0},{"x":0.039,"y":0},{"x":0.041,"y":0},{"x":0.043,"y":0},{"x":0.046,"y":0},{"x":0.048,"y":0},{"x":0.05,"y":0},{"x":0.052,"y":0},{"x":0.055,"y":0},{"x":0.057,"y":0},{"x":0.06,"y":0},{"x":0.0637,"y":0},{"x":0.069,"y":0},{"x":0.0732,"y":0},{"x":0.0775,"y":0},{"x":0.0827,"y":0},{"x":0.09,"y":0},{"x":0.0997,"y":0},{"x":0.199,"y":0},
{"x":0.01,"y":0.008},{"x":0.012,"y":0.012},{"x":0.014,"y":0.009},{"x":0.015,"y":0.014},{"x":0.017,"y":0.011},{"x":0.018,"y":0.017},{"x":0.02,"y":0.013},{"x":0.021,"y":0.019},{"x":0.022,"y":0.015},{"x":0.024,"y":0.021},{"x":0.025,"y":0.017},{"x":0.026,"y":0.024},{"x":0.027,"y":0.013},{"x":0.028,"y":0.02},{"x":0.03,"y":0.026},{"x":0.03,"y":0.017},{"x":0.032,"y":0.022},{"x":0.033,"y":0.028},{"x":0.035,"y":0.019},{"x":0.035,"y":0.025},{"x":0.037,"y":0.022},{"x":0.038,"y":0.028},{"x":0.04,"y":0.02},{"x":0.04,"y":0.025},{"x":0.042,"y":0.024},{"x":0.043,"y":0.018},{"x":0.045,"y":0.022},{"x":0.016,"y":0.006},{"x":0.012,"y":0.005},{"x":0.023,"y":0.01},{"x":0.019,"y":0.022},{"x":0.029,"y":0.03},{"x":0.011,"y":0.01},{"x":0.013,"y":0.015},{"x":0.016,"y":0.012},{"x":0.019,"y":0.016},{"x":0.022,"y":0.018},{"x":0.024,"y":0.014},{"x":0.027,"y":0.022},{"x":0.031,"y":0.02},{"x":0.034,"y":0.024},{"x":0.036,"y":0.02},{"x":0.039,"y":0.023},{"x":0.041,"y":0.027},{"x":0.044,"y":0.025},{"x":0.038,"y":0.0167},
{"x":0.009,"y":0.006},{"x":0.011,"y":0.007},{"x":0.013,"y":0.008},{"x":0.015,"y":0.01},{"x":0.017,"y":0.013},{"x":0.019,"y":0.012},{"x":0.021,"y":0.014},{"x":0.023,"y":0.016},{"x":0.025,"y":0.02},{"x":0.026,"y":0.015},{"x":0.028,"y":0.017},{"x":0.029,"y":0.023},{"x":0.031,"y":0.018},{"x":0.033,"y":0.02},{"x":0.034,"y":0.026},{"x":0.036,"y":0.023},{"x":0.038,"y":0.025},{"x":0.04,"y":0.028},{"x":0.042,"y":0.021},{"x":0.044,"y":0.027},{"x":0.046,"y":0.025},{"x":0.018,"y":0.009},{"x":0.021,"y":0.011},{"x":0.025,"y":0.012},{"x":0.029,"y":0.015},{"x":0.032,"y":0.016},{"x":0.034,"y":0.018},{"x":0.037,"y":0.019},{"x":0.014,"y":0.012},{"x":0.016,"y":0.016},{"x":0.02,"y":0.018},{"x":0.023,"y":0.023},
{"x":0.06,"y":0.072},{"x":0.062,"y":0.068},{"x":0.064,"y":0.075},{"x":0.066,"y":0.07},{"x":0.068,"y":0.078},{"x":0.07,"y":0.073},{"x":0.07,"y":0.067},{"x":0.072,"y":0.082},{"x":0.074,"y":0.076},{"x":0.075,"y":0.07},{"x":0.076,"y":0.088},{"x":0.077,"y":0.08},{"x":0.078,"y":0.074},{"x":0.08,"y":0.084},{"x":0.08,"y":0.068},{"x":0.082,"y":0.09},{"x":0.083,"y":0.078},{"x":0.084,"y":0.072},{"x":0.085,"y":0.086},{"x":0.086,"y":0.094},{"x":0.087,"y":0.066},{"x":0.088,"y":0.08},{"x":0.089,"y":0.09},{"x":0.09,"y":0.098},{"x":0.09,"y":0.074},{"x":0.092,"y":0.085},{"x":0.093,"y":0.094},{"x":0.094,"y":0.07},{"x":0.095,"y":0.1},{"x":0.096,"y":0.08},{"x":0.097,"y":0.09},{"x":0.098,"y":0.106},{"x":0.1,"y":0.095},{"x":0.1,"y":0.085},{"x":0.101,"y":0.104},{"x":0.102,"y":0.11},{"x":0.104,"y":0.1},{"x":0.105,"y":0.093},{"x":0.106,"y":0.112},{"x":0.108,"y":0.105},{"x":0.11,"y":0.115},{"x":0.111,"y":0.105},{"x":0.113,"y":0.117},{"x":0.117,"y":0.115},{"x":0.119,"y":0.125},{"x":0.1246,"y":0.125},{"x":0.121,"y":0.12},{"x":0.132,"y":0.111},{"x":0.1663,"y":0.1678},{"x":0.1046,"y":0.0717},{"x":0.111,"y":0.077},{"x":0.111,"y":0.0888},{"x":0.107,"y":0.084},{"x":0.111,"y":0.095},{"x":0.103,"y":0.078},{"x":0.099,"y":0.075},{"x":0.066,"y":0.079},{"x":0.071,"y":0.086},{"x":0.079,"y":0.092},{"x":0.084,"y":0.097},{"x":0.088,"y":0.1},{"x":0.093,"y":0.104},{"x":0.082,"y":0.083},{"x":0.087,"y":0.089},{"x":0.091,"y":0.091},{"x":0.095,"y":0.087},{"x":0.098,"y":0.097},
{"x":0.061,"y":0.075},{"x":0.063,"y":0.071},{"x":0.065,"y":0.078},{"x":0.067,"y":0.073},{"x":0.069,"y":0.081},{"x":0.071,"y":0.076},{"x":0.073,"y":0.079},{"x":0.073,"y":0.085},{"x":0.075,"y":0.082},{"x":0.076,"y":0.075},{"x":0.078,"y":0.086},{"x":0.079,"y":0.079},{"x":0.081,"y":0.087},{"x":0.081,"y":0.076},{"x":0.083,"y":0.093},{"x":0.084,"y":0.082},{"x":0.086,"y":0.079},{"x":0.087,"y":0.097},{"x":0.088,"y":0.085},{"x":0.09,"y":0.093},{"x":0.091,"y":0.082},{"x":0.092,"y":0.1},{"x":0.094,"y":0.09},{"x":0.095,"y":0.095},{"x":0.096,"y":0.105},{"x":0.097,"y":0.084},{"x":0.099,"y":0.1},{"x":0.1,"y":0.109},{"x":0.102,"y":0.097},{"x":0.103,"y":0.106},{"x":0.105,"y":0.108},{"x":0.107,"y":0.115},{"x":0.109,"y":0.11},{"x":0.085,"y":0.07},{"x":0.089,"y":0.072},{"x":0.093,"y":0.077},{"x":0.098,"y":0.08}],
"cb":[{"x":0,"y":0},{"x":0,"y":0.022},{"x":0,"y":0.024},{"x":0,"y":0.026},{"x":0,"y":0.028},{"x":0,"y":0.03},{"x":0,"y":0.032},{"x":0,"y":0.05},{"x":0,"y":0.052},
{"x":0.0095,"y":0.028},{"x":0.0145,"y":0.027},{"x":0.0195,"y":0.028},{"x":0.0245,"y":0.027},{"x":0.0295,"y":0.028},{"x":0.0345,"y":0.027},{"x":0.0395,"y":0.028},{"x":0.0445,"y":0.027},{"x":0.0495,"y":0.028},{"x":0.0545,"y":0.027},{"x":0.0595,"y":0.028},{"x":0.0645,"y":0.027},{"x":0.0695,"y":0.028},{"x":0.0745,"y":0.027},{"x":0.0795,"y":0.028},{"x":0.0845,"y":0.027},{"x":0.0895,"y":0.028},{"x":0.0945,"y":0.029},
{"x":0.007,"y":0.031},{"x":0.012,"y":0.031},{"x":0.017,"y":0.031},{"x":0.022,"y":0.031},{"x":0.027,"y":0.031},{"x":0.032,"y":0.031},{"x":0.037,"y":0.031},{"x":0.042,"y":0.031},{"x":0.047,"y":0.031},{"x":0.052,"y":0.031},{"x":0.057,"y":0.031},{"x":0.062,"y":0.031},{"x":0.067,"y":0.031},{"x":0.072,"y":0.031},{"x":0.077,"y":0.031},{"x":0.082,"y":0.031},{"x":0.087,"y":0.032},{"x":0.092,"y":0.033},{"x":0.097,"y":0.034},
{"x":0.012,"y":0.0295},{"x":0.017,"y":0.0295},{"x":0.022,"y":0.0295},{"x":0.027,"y":0.0295},{"x":0.032,"y":0.0295},{"x":0.037,"y":0.0295},{"x":0.042,"y":0.0295},{"x":0.047,"y":0.0295},{"x":0.052,"y":0.0295},{"x":0.057,"y":0.0295},{"x":0.062,"y":0.0295},{"x":0.067,"y":0.0295},{"x":0.072,"y":0.0295},{"x":0.077,"y":0.0295},{"x":0.082,"y":0.0295},{"x":0.087,"y":0.03},{"x":0.092,"y":0.031},
{"x":0.015,"y":0.0255},{"x":0.02,"y":0.0255},{"x":0.025,"y":0.0255},{"x":0.03,"y":0.0255},{"x":0.04,"y":0.0255},{"x":0.05,"y":0.0255},{"x":0.06,"y":0.0255},{"x":0.07,"y":0.0255},{"x":0.08,"y":0.0255},{"x":0.09,"y":0.0265},
{"x":0.035,"y":0.025},{"x":0.04,"y":0.022},{"x":0.045,"y":0.024},{"x":0.05,"y":0.021},{"x":0.055,"y":0.024},{"x":0.06,"y":0.022},{"x":0.065,"y":0.025},{"x":0.07,"y":0.023},{"x":0.075,"y":0.026},{"x":0.08,"y":0.024},{"x":0.085,"y":0.022},{"x":0.09,"y":0.025},{"x":0.095,"y":0.027},
{"x":0.105,"y":0.035},{"x":0.108,"y":0.04},{"x":0.11,"y":0.045},{"x":0.112,"y":0.05},{"x":0.113,"y":0.052},{"x":0.1,"y":0.031},{"x":0.11,"y":0.029},{"x":0.113,"y":0.035},
{"x":0.12,"y":0.052},{"x":0.125,"y":0.052},{"x":0.133,"y":0.045},{"x":0.167,"y":0.045},{"x":0.2,"y":0.036},{"x":0.012,"y":0.075},{"x":0.006,"y":0.038},{"x":0.006,"y":0.045},{"x":0.007,"y":0.05}],
"cg":[{"x":0.007,"y":0.034},{"x":0.012,"y":0.034},{"x":0.017,"y":0.034},{"x":0.022,"y":0.034},{"x":0.027,"y":0.034},{"x":0.032,"y":0.034},{"x":0.037,"y":0.034},{"x":0.042,"y":0.034},{"x":0.047,"y":0.035},{"x":0.052,"y":0.035},{"x":0.057,"y":0.035},{"x":0.062,"y":0.035},{"x":0.067,"y":0.035},{"x":0.072,"y":0.035},{"x":0.077,"y":0.035},{"x":0.082,"y":0.036},
{"x":0.0095,"y":0.037},{"x":0.0145,"y":0.037},{"x":0.0195,"y":0.037},{"x":0.0245,"y":0.037},{"x":0.0295,"y":0.037},{"x":0.0345,"y":0.037},{"x":0.0395,"y":0.037},{"x":0.0445,"y":0.037},{"x":0.0495,"y":0.037},{"x":0.0545,"y":0.037},{"x":0.0595,"y":0.037},{"x":0.0645,"y":0.037},{"x":0.0695,"y":0.037},{"x":0.0745,"y":0.037},{"x":0.0795,"y":0.037},{"x":0.0845,"y":0.038},{"x":0.0895,"y":0.038},
{"x":0.007,"y":0.04},{"x":0.012,"y":0.04},{"x":0.017,"y":0.04},{"x":0.022,"y":0.04},{"x":0.027,"y":0.04},{"x":0.032,"y":0.04},{"x":0.037,"y":0.04},{"x":0.042,"y":0.04},{"x":0.047,"y":0.04},{"x":0.052,"y":0.04},{"x":0.057,"y":0.04},{"x":0.062,"y":0.04},{"x":0.067,"y":0.04},{"x":0.072,"y":0.04},{"x":0.077,"y":0.04},{"x":0.082,"y":0.04},{"x":0.087,"y":0.04},{"x":0.092,"y":0.041},{"x":0.097,"y":0.041},{"x":0.102,"y":0.042},
{"x":0.0095,"y":0.043},{"x":0.0145,"y":0.043},{"x":0.0195,"y":0.043},{"x":0.0245,"y":0.043},{"x":0.0295,"y":0.043},{"x":0.0345,"y":0.043},{"x":0.0395,"y":0.043},{"x":0.0445,"y":0.043},{"x":0.0495,"y":0.043},{"x":0.0545,"y":0.043},{"x":0.0595,"y":0.043},{"x":0.0645,"y":0.043},{"x":0.0695,"y":0.043},{"x":0.0745,"y":0.043},{"x":0.0795,"y":0.043},{"x":0.0845,"y":0.043},{"x":0.0895,"y":0.043},{"x":0.0945,"y":0.043},{"x":0.0995,"y":0.043},{"x":0.1045,"y":0.044},{"x":0.1095,"y":0.045},
{"x":0.007,"y":0.046},{"x":0.012,"y":0.046},{"x":0.017,"y":0.046},{"x":0.022,"y":0.046},{"x":0.027,"y":0.046},{"x":0.032,"y":0.046},{"x":0.037,"y":0.046},{"x":0.042,"y":0.046},{"x":0.047,"y":0.046},{"x":0.052,"y":0.046},{"x":0.057,"y":0.046},{"x":0.062,"y":0.046},{"x":0.067,"y":0.046},{"x":0.072,"y":0.046},{"x":0.077,"y":0.046},{"x":0.082,"y":0.046},{"x":0.087,"y":0.046},{"x":0.092,"y":0.046},{"x":0.097,"y":0.046},{"x":0.102,"y":0.046},{"x":0.107,"y":0.047},{"x":0.112,"y":0.048},
{"x":0.0095,"y":0.049},{"x":0.0145,"y":0.049},{"x":0.0195,"y":0.049},{"x":0.0245,"y":0.049},{"x":0.0295,"y":0.049},{"x":0.0345,"y":0.049},{"x":0.0395,"y":0.049},{"x":0.0445,"y":0.049},{"x":0.0495,"y":0.049},{"x":0.0545,"y":0.049},{"x":0.0595,"y":0.049},{"x":0.0645,"y":0.049},{"x":0.0695,"y":0.049},{"x":0.0745,"y":0.049},{"x":0.0795,"y":0.049},{"x":0.0845,"y":0.049},{"x":0.0895,"y":0.049},{"x":0.0945,"y":0.049},{"x":0.0995,"y":0.049},{"x":0.1045,"y":0.049},{"x":0.1095,"y":0.05},{"x":0.113,"y":0.052},
{"x":0.007,"y":0.052},{"x":0.012,"y":0.052},{"x":0.017,"y":0.052},{"x":0.022,"y":0.052},{"x":0.027,"y":0.052},{"x":0.032,"y":0.052},{"x":0.037,"y":0.052},{"x":0.042,"y":0.052},{"x":0.047,"y":0.052},{"x":0.052,"y":0.052},{"x":0.057,"y":0.052},{"x":0.062,"y":0.052},{"x":0.067,"y":0.052},{"x":0.072,"y":0.052},{"x":0.077,"y":0.052},{"x":0.082,"y":0.052},{"x":0.087,"y":0.052},{"x":0.092,"y":0.052},{"x":0.097,"y":0.052},{"x":0.102,"y":0.053},{"x":0.107,"y":0.054},{"x":0.112,"y":0.055},
{"x":0.0095,"y":0.055},{"x":0.0145,"y":0.055},{"x":0.0195,"y":0.055},{"x":0.0245,"y":0.055},{"x":0.0295,"y":0.055},{"x":0.0345,"y":0.055},{"x":0.0395,"y":0.055},{"x":0.0445,"y":0.055},{"x":0.0495,"y":0.055},{"x":0.0545,"y":0.055},{"x":0.0595,"y":0.055},{"x":0.0645,"y":0.055},{"x":0.0695,"y":0.055},{"x":0.0745,"y":0.055},{"x":0.0795,"y":0.055},{"x":0.0845,"y":0.055},{"x":0.0895,"y":0.055},{"x":0.0945,"y":0.056},{"x":0.0995,"y":0.056},{"x":0.104,"y":0.054},
{"x":0.007,"y":0.058},{"x":0.012,"y":0.058},{"x":0.017,"y":0.058},{"x":0.022,"y":0.058},{"x":0.027,"y":0.058},{"x":0.032,"y":0.058},{"x":0.037,"y":0.058},{"x":0.042,"y":0.058},{"x":0.047,"y":0.058},{"x":0.052,"y":0.058},{"x":0.057,"y":0.058},{"x":0.062,"y":0.058},{"x":0.067,"y":0.058},{"x":0.072,"y":0.058},{"x":0.077,"y":0.058},{"x":0.082,"y":0.058},{"x":0.087,"y":0.059},{"x":0.092,"y":0.06},
{"x":0.0095,"y":0.061},{"x":0.0145,"y":0.061},{"x":0.0195,"y":0.061},{"x":0.0245,"y":0.061},{"x":0.0295,"y":0.061},{"x":0.0345,"y":0.061},{"x":0.0395,"y":0.061},{"x":0.0445,"y":0.061},{"x":0.0495,"y":0.061},{"x":0.0545,"y":0.061},{"x":0.0595,"y":0.061},{"x":0.0645,"y":0.061},{"x":0.0695,"y":0.061},{"x":0.0745,"y":0.061},{"x":0.0795,"y":0.061},{"x":0.0845,"y":0.061},{"x":0.0895,"y":0.062},
{"x":0.007,"y":0.064},{"x":0.012,"y":0.064},{"x":0.017,"y":0.064},{"x":0.022,"y":0.064},{"x":0.027,"y":0.064},{"x":0.032,"y":0.064},{"x":0.037,"y":0.064},{"x":0.042,"y":0.064},{"x":0.047,"y":0.064},{"x":0.052,"y":0.064},{"x":0.057,"y":0.064},{"x":0.062,"y":0.064},{"x":0.067,"y":0.064},{"x":0.072,"y":0.064},{"x":0.077,"y":0.064},{"x":0.082,"y":0.064},
{"x":0.0095,"y":0.067},{"x":0.0145,"y":0.067},{"x":0.0195,"y":0.067},{"x":0.0245,"y":0.067},{"x":0.0295,"y":0.067},{"x":0.0345,"y":0.067},{"x":0.0395,"y":0.067},{"x":0.0445,"y":0.067},{"x":0.0495,"y":0.067},{"x":0.0545,"y":0.067},{"x":0.0595,"y":0.067},{"x":0.0645,"y":0.067},{"x":0.0695,"y":0.067},{"x":0.0745,"y":0.066},
{"x":0.007,"y":0.07},{"x":0.012,"y":0.07},{"x":0.017,"y":0.07},{"x":0.022,"y":0.07},{"x":0.027,"y":0.07},{"x":0.032,"y":0.07},{"x":0.037,"y":0.07},{"x":0.042,"y":0.07},{"x":0.047,"y":0.07},{"x":0.052,"y":0.07},{"x":0.057,"y":0.07},{"x":0.062,"y":0.07},{"x":0.067,"y":0.069},
{"x":0.0095,"y":0.073},{"x":0.0145,"y":0.073},{"x":0.0195,"y":0.073},{"x":0.0245,"y":0.073},{"x":0.0295,"y":0.073},{"x":0.0345,"y":0.073},{"x":0.0395,"y":0.073},{"x":0.0445,"y":0.073},{"x":0.0495,"y":0.073},{"x":0.0545,"y":0.073},
{"x":0,"y":0.03},{"x":0,"y":0.033},{"x":0,"y":0.036},{"x":0,"y":0.039},{"x":0,"y":0.042},{"x":0,"y":0.045},{"x":0,"y":0.048},{"x":0,"y":0.051},{"x":0,"y":0.054},{"x":0,"y":0.057},{"x":0,"y":0.06},{"x":0,"y":0.063},{"x":0,"y":0.066},{"x":0,"y":0.069},{"x":0,"y":0.072},{"x":0,"y":0.075},{"x":0,"y":0.078},{"x":0,"y":0.081},{"x":0,"y":0.084},{"x":0,"y":0.087}],
"cgo":[{"x":0.015,"y":0.077},{"x":0.02,"y":0.076},{"x":0.028,"y":0.077},{"x":0.034,"y":0.076},{"x":0.04,"y":0.077},{"x":0.045,"y":0.076},{"x":0.05,"y":0.076},
{"x":0.012,"y":0.081},{"x":0.019,"y":0.081},{"x":0.025,"y":0.081},{"x":0.031,"y":0.081},{"x":0.037,"y":0.081},{"x":0.043,"y":0.082},
{"x":0.115,"y":0.055},{"x":0.12,"y":0.055},{"x":0.125,"y":0.055},{"x":0.133,"y":0.042},{"x":0.167,"y":0.046},{"x":0.2,"y":0.045},{"x":0.11,"y":0.037}]
},
"spacing":61,
"bounds":"flush",
"resolve":{"scale":{"color":"independent","shape":"independent","x":"independent","y":"independent"},"legend":{"color":"independent","shape":"independent"}},
"hconcat":[
{"width":340,"height":345,"title":{"text":"Primary consumers","dx":8},"resolve":{"axis":{"x":"independent"}},
 "layer":[
  {"data":{"name":"as"},"mark":{"type":"point","filled":false,"size":60,"strokeWidth":2.2,"opacity":1},
   "encoding":{"x":{"field":"x","type":"quantitative","scale":{"domain":[-0.024,0.624],"nice":false,"zero":false},"axis":{"values":[0,0.1,0.2,0.3,0.4,0.5,0.6],"format":"~g","title":null}},
    "y":{"field":"y","type":"quantitative","scale":{"domain":[-0.024,0.624],"nice":false,"zero":false},"axis":{"values":[0,0.1,0.2,0.3,0.4,0.5,0.6],"format":"~g","title":"Predicted prevalence"}},
    "color":{"datum":"Stacked-species modeling","scale":{"domain":["Community richness modeling","Community prevalence modeling","Stacked-species modeling"],"range":["#1f1fe0","#9acd32","#000000"]},"legend":null},
    "shape":{"datum":"Stacked-species modeling","scale":{"domain":["Community richness modeling","Community prevalence modeling","Stacked-species modeling"],"range":["circle","triangle-up","square"]},"legend":null}}},
  {"data":{"name":"ab"},"mark":{"type":"point","filled":false,"size":45,"strokeWidth":2.6,"opacity":1},
   "encoding":{"x":{"field":"x","type":"quantitative","axis":null},"y":{"field":"y","type":"quantitative"},"color":{"datum":"Community richness modeling","legend":null},"shape":{"datum":"Community richness modeling","legend":null}}},
  {"data":{"name":"ag"},"mark":{"type":"point","filled":false,"size":72,"strokeWidth":4,"opacity":1},
   "encoding":{"x":{"field":"x","type":"quantitative","axis":null},"y":{"field":"y","type":"quantitative"},"color":{"datum":"Community prevalence modeling","legend":null},"shape":{"datum":"Community prevalence modeling","legend":null}}},
  {"data":{"name":"ago"},"mark":{"type":"point","filled":false,"size":60,"strokeWidth":2,"opacity":1},
   "encoding":{"x":{"field":"x","type":"quantitative","axis":null},"y":{"field":"y","type":"quantitative"},"color":{"datum":"Community prevalence modeling","legend":null},"shape":{"datum":"Community prevalence modeling","legend":null}}},
  {"data":{"name":"da"},"mark":{"type":"line","color":"#e41a1c","strokeDash":[10,7],"strokeWidth":2.8,"clip":true},
   "encoding":{"x":{"field":"x","type":"quantitative","axis":{"orient":"top","title":"(a)","labels":false,"ticks":false,"titleX":-63,"titleY":-18,"titleAlign":"left","titleBaseline":"alphabetic","titleFontSize":25,"titleFontWeight":"bold","titleColor":"#000000","titlePadding":0}},"y":{"field":"y","type":"quantitative"}}}
 ]},
{"width":340,"height":345,"title":{"text":"High-level consumers"},"resolve":{"axis":{"x":"independent"}},
 "layer":[
  {"data":{"name":"bs"},"mark":{"type":"point","filled":false,"size":60,"strokeWidth":2.2,"opacity":1},
   "encoding":{"x":{"field":"x","type":"quantitative","scale":{"domain":[0.376,1.024],"nice":false,"zero":false},"axis":{"values":[0.4,0.5,0.6,0.7,0.8,0.9,1],"format":"~g","title":"Observed prevalence"}},
    "y":{"field":"y","type":"quantitative","scale":{"domain":[0.376,1.024],"nice":false,"zero":false},"axis":{"values":[0.4,0.5,0.6,0.7,0.8,0.9,1],"format":"~g","title":null}},
    "color":{"datum":"Stacked-species modeling","scale":{"domain":["Community richness modeling","Community prevalence modeling","Stacked-species modeling"],"range":["#1f1fe0","#9acd32","#000000"]},"legend":null},
    "shape":{"datum":"Stacked-species modeling","scale":{"domain":["Community richness modeling","Community prevalence modeling","Stacked-species modeling"],"range":["circle","triangle-up","square"]},"legend":null}}},
  {"data":{"name":"bb"},"mark":{"type":"point","filled":false,"size":45,"strokeWidth":2.6,"opacity":1},
   "encoding":{"x":{"field":"x","type":"quantitative","axis":null},"y":{"field":"y","type":"quantitative"},"color":{"datum":"Community richness modeling","legend":null},"shape":{"datum":"Community richness modeling","legend":null}}},
  {"data":{"name":"bg"},"mark":{"type":"point","filled":false,"size":72,"strokeWidth":4,"opacity":1},
   "encoding":{"x":{"field":"x","type":"quantitative","axis":null},"y":{"field":"y","type":"quantitative"},"color":{"datum":"Community prevalence modeling","legend":null},"shape":{"datum":"Community prevalence modeling","legend":null}}},
  {"data":{"name":"bgo"},"mark":{"type":"point","filled":false,"size":60,"strokeWidth":2,"opacity":1},
   "encoding":{"x":{"field":"x","type":"quantitative","axis":null},"y":{"field":"y","type":"quantitative"},"color":{"datum":"Community prevalence modeling","legend":null},"shape":{"datum":"Community prevalence modeling","legend":null}}},
  {"data":{"name":"db"},"mark":{"type":"line","color":"#e41a1c","strokeDash":[10,7],"strokeWidth":2.8,"clip":true},
   "encoding":{"x":{"field":"x","type":"quantitative","axis":{"orient":"top","title":"(b)","labels":false,"ticks":false,"titleX":-46,"titleY":-18,"titleAlign":"left","titleBaseline":"alphabetic","titleFontSize":25,"titleFontWeight":"bold","titleColor":"#000000","titlePadding":0}},"y":{"field":"y","type":"quantitative"}}}
 ]},
{"width":340,"height":345,"title":{"text":"Mixed consumers"},"resolve":{"axis":{"x":"independent"}},
 "layer":[
  {"data":{"name":"cs"},"mark":{"type":"point","filled":false,"size":60,"strokeWidth":2.2,"opacity":1},
   "encoding":{"x":{"field":"x","type":"quantitative","scale":{"domain":[-0.008,0.208],"nice":false,"zero":false},"axis":{"values":[0,0.05,0.1,0.15,0.2],"format":"~g","title":null}},
    "y":{"field":"y","type":"quantitative","scale":{"domain":[-0.008,0.208],"nice":false,"zero":false},"axis":{"values":[0,0.05,0.1,0.15,0.2],"format":"~g","title":null}},
    "color":{"datum":"Stacked-species modeling","scale":{"domain":["Community richness modeling","Community prevalence modeling","Stacked-species modeling"],"range":["#1f1fe0","#9acd32","#000000"]},"legend":{"orient":"top-left","title":null}},
    "shape":{"datum":"Stacked-species modeling","scale":{"domain":["Community richness modeling","Community prevalence modeling","Stacked-species modeling"],"range":["circle","triangle-up","square"]},"legend":{"orient":"top-left","title":null}}}},
  {"data":{"name":"cb"},"mark":{"type":"point","filled":false,"size":45,"strokeWidth":2.6,"opacity":1},
   "encoding":{"x":{"field":"x","type":"quantitative","axis":null},"y":{"field":"y","type":"quantitative"},"color":{"datum":"Community richness modeling"},"shape":{"datum":"Community richness modeling"}}},
  {"data":{"name":"cg"},"mark":{"type":"point","filled":false,"size":72,"strokeWidth":4,"opacity":1},
   "encoding":{"x":{"field":"x","type":"quantitative","axis":null},"y":{"field":"y","type":"quantitative"},"color":{"datum":"Community prevalence modeling"},"shape":{"datum":"Community prevalence modeling"}}},
  {"data":{"name":"cgo"},"mark":{"type":"point","filled":false,"size":60,"strokeWidth":2,"opacity":1},
   "encoding":{"x":{"field":"x","type":"quantitative","axis":null},"y":{"field":"y","type":"quantitative"},"color":{"datum":"Community prevalence modeling"},"shape":{"datum":"Community prevalence modeling"}}},
  {"data":{"name":"dc"},"mark":{"type":"line","color":"#e41a1c","strokeDash":[10,7],"strokeWidth":2.8,"clip":true},
   "encoding":{"x":{"field":"x","type":"quantitative","axis":{"orient":"top","title":"(c)","labels":false,"ticks":false,"titleX":-51,"titleY":-18,"titleAlign":"left","titleBaseline":"alphabetic","titleFontSize":25,"titleFontWeight":"bold","titleColor":"#000000","titlePadding":0}},"y":{"field":"y","type":"quantitative"}}}
 ]}
]
}
